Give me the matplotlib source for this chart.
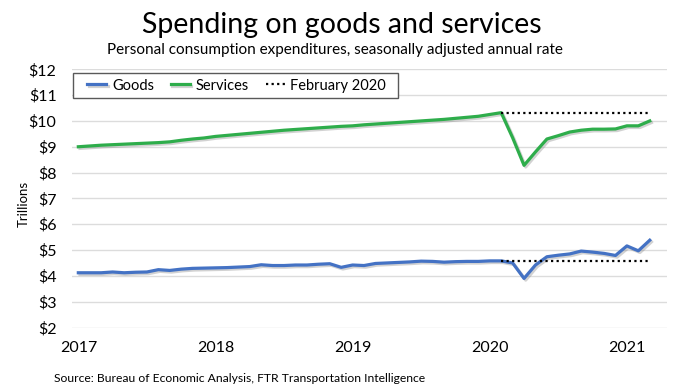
import matplotlib
matplotlib.use('Agg')
import matplotlib.pyplot as plt
import matplotlib.patheffects as pe
from matplotlib.patches import Rectangle
import numpy as np

# Monthly data, Jan 2017 - Mar 2021, trillions of dollars (SAAR)
goods = [4.12, 4.12, 4.12, 4.15, 4.12, 4.14, 4.15, 4.24, 4.21, 4.26, 4.29, 4.30,
         4.31, 4.32, 4.34, 4.36, 4.43, 4.40, 4.40, 4.42, 4.42, 4.45, 4.47, 4.33,
         4.42, 4.40, 4.48, 4.50, 4.52, 4.54, 4.57, 4.56, 4.53, 4.55, 4.56, 4.56,
         4.58, 4.58, 4.50, 3.90, 4.42, 4.74, 4.80, 4.85, 4.96, 4.92, 4.87, 4.79,
         5.16, 4.97, 5.38]
services = [9.00, 9.03, 9.06, 9.08, 9.10, 9.12, 9.14, 9.16, 9.19, 9.25, 9.30, 9.34,
            9.40, 9.44, 9.48, 9.52, 9.56, 9.60, 9.64, 9.67, 9.70, 9.73, 9.76, 9.79,
            9.81, 9.85, 9.88, 9.91, 9.94, 9.97, 10.00, 10.03, 10.06, 10.10, 10.14, 10.18,
            10.25, 10.32, 9.35, 8.28, 8.80, 9.30, 9.43, 9.57, 9.64, 9.68, 9.68, 9.69,
            9.81, 9.81, 10.00]
year_labels = ['2017', '2018', '2019', '2020', '2021']
feb2020_index = 37

plt.rcParams['font.family'] = ['Lato', 'DejaVu Sans']

months = np.arange(len(goods))

fig = plt.figure(figsize=(6.84, 3.91), dpi=100)
ax = fig.add_axes([0.105, 0.1624, 0.870, 0.6604])

shadow = [pe.SimpleLineShadow(offset=(1.2, -1.2), shadow_color='gray', alpha=0.35), pe.Normal()]

ax.plot(months, goods, color='#4472C4', lw=2.3, label='Goods', path_effects=shadow, zorder=3)
ax.plot(months, services, color='#2EAD4B', lw=2.3, label='Services', path_effects=shadow, zorder=3)

# February 2020 reference levels
ref_x = months[feb2020_index:]
ax.plot(ref_x, [goods[feb2020_index]] * len(ref_x), color='black', lw=1.6,
        linestyle=(0, (1, 1.5)), label='February 2020', zorder=4)
ax.plot(ref_x, [services[feb2020_index]] * len(ref_x), color='black', lw=1.6,
        linestyle=(0, (1, 1.5)), zorder=4)

ax.set_xlim(-0.57, 51.5)
ax.set_ylim(2, 12)
ax.set_yticks(range(2, 13))
ax.set_yticklabels([f'${v}' for v in range(2, 13)])
ax.set_xticks(np.arange(0, len(goods), 12))
ax.set_xticklabels(year_labels)
ax.tick_params(length=0, labelsize=11.5, colors='black')
ax.tick_params(axis='y', pad=11)
ax.tick_params(axis='x', pad=10)

ax.grid(axis='y', color='#DCDCDC', lw=1)
ax.set_axisbelow(True)
for s in ax.spines.values():
    s.set_visible(False)

ax.set_ylabel('Trillions', fontsize=9.5)
ax.yaxis.set_label_coords(-0.07, 0.48)

# legend box drawn separately so its padding can follow the reference
ax.add_patch(Rectangle((0.0017, 0.889), 0.546, 0.0967, transform=ax.transAxes,
                       facecolor='white', edgecolor='#595959', lw=1.0, zorder=5))
leg = ax.legend(loc='center', bbox_to_anchor=(0.277, 0.937), ncol=3, fontsize=10.5,
                frameon=False, handlelength=1.3, handletextpad=0.4, columnspacing=1.15)
leg.set_zorder(6)

fig.text(0.5, 0.937, 'Spending on goods and services', ha='center', va='center', fontsize=20.5)
fig.text(0.49, 0.872, 'Personal consumption expenditures, seasonally adjusted annual rate',
         ha='center', va='center', fontsize=11)
fig.text(0.079, 0.033, 'Source: Bureau of Economic Analysis, FTR Transportation Intelligence',
         ha='left', va='center', fontsize=8.7)

fig.savefig('out.png', dpi=100)
